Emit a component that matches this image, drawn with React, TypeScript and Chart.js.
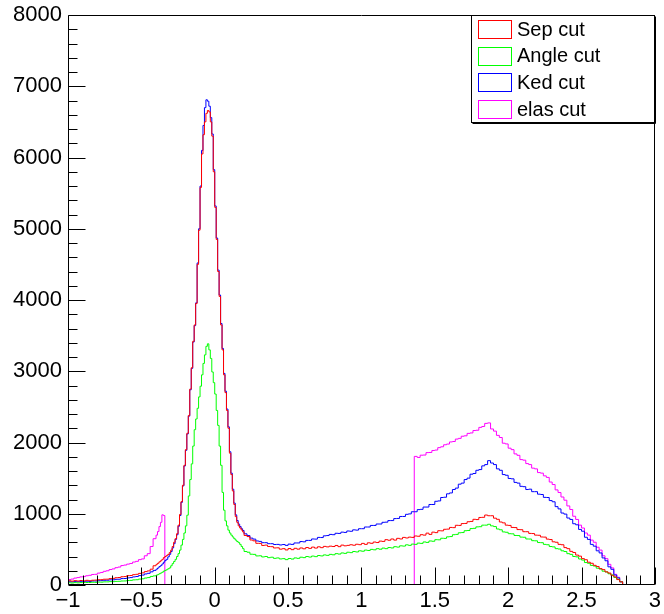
import React, { useEffect, useRef } from "react";
import { Chart, registerables } from "chart.js";

Chart.register(...registerables);

const X_MIN = -1;
const X_MAX = 3;
const Y_MIN = 0;
const Y_MAX = 8000;

// Histogram binning: coarse 0.02 bins, fine 0.01 bins around the peak
const BIN_SEGMENTS = [
  { from: -1, to: -0.4, width: 0.02 },
  { from: -0.4, to: 0.2, width: 0.01 },
  { from: 0.2, to: 3, width: 0.02 },
];
const ELAS_HIGH_START = 1.36; // uniform 0.02 bins from here to 3
const ELAS_HIGH_WIDTH = 0.02;

const SERIES_LABELS = ["Sep cut", "Angle cut", "Ked cut", "elas cut"];
const SERIES_COLORS = ["#ff0000", "#00ff00", "#0000ff", "#ff00ff"];

const SEP_CUT = [
  // -1 .. -0.4 (0.02)
  52, 60, 54, 61, 56, 63, 58, 66, 60, 67,
  69, 74, 75, 81, 82, 90, 93, 102, 105, 116,
  118, 131, 133, 145, 150, 163, 170, 188, 198, 222,
  // -0.4 .. 0.2 (0.01)
  270, 290, 305, 325, 340, 360, 385, 400, 415, 430,
  455, 490, 540, 600, 650, 720, 840, 990, 1170, 1400,
  1680, 1900, 2130, 2380, 2750, 3050, 3420, 3650, 3950, 4500,
  4980, 5580, 6050, 6320, 6500, 6620, 6660, 6640, 6500, 6300,
  5800, 5300, 4850, 4400, 4050, 3650, 3300, 2950, 2700, 2450,
  2200, 1850, 1550, 1320, 1130, 960, 880, 830, 800, 772,
  // 0.2 .. 3 (0.02)
  745, 695, 680, 632, 620, 585, 584, 555, 560, 540,
  538, 520, 522, 503, 510, 492, 512, 496, 515, 503,
  520, 508, 526, 514, 532, 518, 536, 524, 542, 535,
  545, 540, 555, 538, 560, 550, 556, 565, 558, 572,
  566, 584, 570, 592, 585, 603, 596, 616, 612, 636,
  628, 646, 630, 655, 646, 668, 660, 672, 668, 688,
  684, 706, 700, 728, 710, 742, 735, 762, 760, 782,
  784, 808, 805, 838, 836, 862, 864, 888, 892, 922,
  918, 948, 950, 982, 972, 972, 938, 922, 884, 872,
  840, 836, 808, 806, 778, 776, 748, 748, 724, 722,
  700, 698, 674, 672, 644, 638, 606, 600, 570, 565,
  525, 510, 472, 456, 420, 405, 370, 355, 320, 305,
  276, 260, 230, 216, 184, 168, 136, 114, 76, 45,
  0, 0, 0, 0, 0, 0, 0, 0, 0, 0,
];

const ANGLE_CUT = [
  // -1 .. -0.4 (0.02)
  28, 31, 28, 33, 30, 34, 34, 35, 35, 39,
  37, 41, 40, 44, 44, 47, 47, 51, 52, 56,
  57, 63, 65, 72, 74, 83, 87, 98, 104, 120,
  // -0.4 .. 0.2 (0.01)
  128, 138, 146, 158, 168, 180, 195, 205, 215, 228,
  240, 270, 300, 330, 360, 400, 440, 490, 560, 640,
  730, 830, 980, 1250, 1480, 1700, 1950, 2180, 2330, 2480,
  2640, 2790, 2950, 3110, 3230, 3350, 3385, 3300, 3180, 2990,
  2840, 2680, 2450, 2240, 1950, 1680, 1300, 1050, 900, 830,
  770, 730, 700, 675, 650, 630, 610, 595, 570, 540,
  // 0.2 .. 3 (0.02)
  510, 470, 460, 432, 430, 408, 410, 394, 400, 384,
  390, 374, 380, 366, 370, 356, 372, 364, 380, 374,
  390, 384, 400, 392, 406, 398, 414, 408, 422, 416,
  430, 424, 440, 434, 450, 444, 460, 454, 470, 464,
  480, 474, 490, 484, 500, 494, 510, 502, 518, 510,
  526, 520, 538, 532, 550, 546, 564, 556, 574, 570,
  588, 584, 604, 598, 618, 614, 636, 634, 656, 654,
  676, 680, 706, 710, 733, 736, 762, 765, 792, 795,
  816, 818, 840, 840, 852, 830, 820, 786, 775, 745,
  740, 720, 718, 695, 694, 672, 670, 646, 645, 622,
  620, 596, 594, 570, 565, 540, 535, 510, 505, 480,
  470, 440, 430, 400, 395, 365, 350, 315, 305, 275,
  266, 236, 224, 194, 184, 158, 142, 106, 82, 45,
  0, 0, 0, 0, 0, 0, 0, 0, 0, 0,
];

const KED_CUT = [
  // -1 .. -0.4 (0.02)
  42, 46, 43, 48, 45, 51, 47, 53, 50, 56,
  56, 60, 61, 66, 67, 72, 73, 80, 81, 90,
  91, 100, 104, 114, 119, 132, 139, 155, 164, 185,
  // -0.4 .. 0.2 (0.01)
  205, 222, 238, 258, 272, 295, 320, 345, 360, 395,
  430, 470, 520, 580, 640, 705, 825, 975, 1160, 1390,
  1670, 1890, 2120, 2370, 2740, 3040, 3410, 3640, 3960, 4520,
  5000, 5600, 6100, 6450, 6700, 6810, 6790, 6720, 6560, 6330,
  5830, 5320, 4870, 4420, 4070, 3670, 3320, 2970, 2720, 2470,
  2220, 1870, 1570, 1345, 1150, 985, 905, 855, 820, 790,
  // 0.2 .. 3 (0.02)
  765, 718, 694, 658, 644, 618, 612, 594, 594, 580,
  580, 568, 570, 562, 568, 556, 574, 570, 590, 590,
  610, 606, 626, 626, 646, 644, 668, 666, 690, 694,
  710, 706, 726, 724, 742, 738, 758, 754, 774, 770,
  790, 790, 814, 814, 836, 836, 856, 856, 880, 882,
  904, 904, 932, 934, 962, 962, 992, 998, 1028, 1028,
  1058, 1062, 1094, 1094, 1130, 1130, 1175, 1180, 1228, 1232,
  1280, 1292, 1340, 1360, 1415, 1430, 1480, 1500, 1555, 1565,
  1610, 1620, 1672, 1690, 1745, 1712, 1690, 1630, 1610, 1550,
  1540, 1495, 1490, 1440, 1430, 1385, 1380, 1340, 1345, 1310,
  1310, 1275, 1270, 1230, 1228, 1185, 1168, 1100, 1068, 1010,
  995, 940, 920, 860, 845, 780, 755, 670, 640, 570,
  545, 480, 450, 380, 340, 255, 220, 140, 100, 45,
  0, 0, 0, 0, 0, 0, 0, 0, 0, 0,
];

// elas cut, low part on the shared binning (-1 .. -0.32)
const ELAS_LOW = [
  66, 77, 83, 97, 104, 114, 118, 130, 136, 148,
  150, 167, 176, 192, 200, 217, 226, 243, 252, 273,
  280, 293, 302, 322, 332, 356, 366, 410, 440, 540,
  650, 700, 750, 820, 880, 985, 975, 0,
];
// elas cut, high part on 0.02 bins (1.36 .. 3)
const ELAS_HIGH = [
  0, 1805,
  1790, 1822, 1824, 1858, 1860, 1888, 1894, 1928, 1940, 1968,
  1978, 2008, 2014, 2048, 2058, 2088, 2094, 2128, 2134, 2168,
  2172, 2212, 2225, 2268, 2275, 2190, 2160, 2100, 2070, 1990,
  1980, 1920, 1900, 1840, 1820, 1760, 1752, 1704, 1690, 1640,
  1630, 1578, 1570, 1532, 1510, 1445, 1410, 1335, 1298, 1235,
  1190, 1110, 1060, 965, 920, 840, 800, 730, 700, 630,
  600, 530, 490, 410, 370, 290, 240, 150, 108, 45,
  0, 0, 0, 0, 0, 0, 0, 0, 0, 0,
];

const X_TICK_STEP = 0.5;
const Y_TICK_STEP = 1000;

const FONT = "'Liberation Sans', Arial, Helvetica, sans-serif";

function buildEdges() {
  const edges: number[] = [];
  BIN_SEGMENTS.forEach((s) => {
    const n = Math.round((s.to - s.from) / s.width);
    for (let i = 0; i < n; i++) edges.push(s.from + i * s.width);
  });
  edges.push(BIN_SEGMENTS[BIN_SEGMENTS.length - 1].to);
  return edges;
}

function histPoints(edges: number[], values: number[]) {
  const pts: { x: number; y: number | null }[] = [];
  values.forEach((v, i) => pts.push({ x: edges[i], y: v }));
  pts.push({ x: edges[values.length], y: values[values.length - 1] });
  return pts;
}

const framePlugin = {
  id: "rootFrame",
  afterDraw(chart: any) {
    const { ctx, chartArea: a, scales } = chart;
    const xs = scales.x;
    const ys = scales.y;
    ctx.save();
    ctx.strokeStyle = "#000";
    ctx.lineWidth = 1;
    const L = Math.round(a.left) + 0.5;
    const R = Math.round(a.right) - 0.5;
    const T = Math.round(a.top) + 0.5;
    const B = Math.round(a.bottom) - 0.5;
    ctx.beginPath();
    ctx.rect(L, T, R - L, B - T);
    ctx.stroke();
    ctx.beginPath();
    for (let k = 0; k <= 40; k++) {
      const v = X_MIN + k * 0.1;
      const px = Math.round(xs.getPixelForValue(v)) + 0.5;
      const len = k % 5 === 0 ? 17 : 9;
      ctx.moveTo(px, B);
      ctx.lineTo(px, B - len);
    }
    for (let k = 0; k <= 40; k++) {
      const v = Y_MIN + k * 200;
      const py = Math.round(ys.getPixelForValue(v)) + 0.5;
      const len = k % 5 === 0 ? 17 : 9;
      ctx.moveTo(L, py);
      ctx.lineTo(L + len, py);
    }
    ctx.stroke();

    // legend box
    const lx = 471.5;
    const ly = T;
    const lw = R - lx;
    const lh = 107;
    ctx.fillStyle = "#fff";
    ctx.fillRect(lx, ly, lw, lh);
    ctx.strokeStyle = "#000";
    ctx.strokeRect(lx, ly, lw, lh);
    ctx.beginPath();
    ctx.moveTo(lx + 1, ly + lh + 1);
    ctx.lineTo(lx + lw + 1, ly + lh + 1);
    ctx.lineTo(lx + lw + 1, ly + 1);
    ctx.stroke();
    ctx.font = `20px ${FONT}`;
    ctx.textBaseline = "middle";
    ctx.textAlign = "left";
    SERIES_LABELS.forEach((lab, i) => {
      const cy = ly + 13.5 + i * 26.7;
      ctx.strokeStyle = SERIES_COLORS[i];
      ctx.strokeRect(478.5, Math.round(cy - 9) + 0.5, 33, 18);
      ctx.fillStyle = "#000";
      ctx.fillText(lab, 517, cy + 1);
    });
    ctx.restore();
  },
};

export default function App() {
  const ref = useRef<HTMLCanvasElement | null>(null);
  useEffect(() => {
    document.body.style.margin = "0";
    const canvas = ref.current;
    if (!canvas) return;
    const edges = buildEdges();
    const highEdges = ELAS_HIGH.map((_, i) => ELAS_HIGH_START + i * ELAS_HIGH_WIDTH);
    highEdges.push(ELAS_HIGH_START + ELAS_HIGH.length * ELAS_HIGH_WIDTH);
    const lowPts = histPoints(edges, ELAS_LOW);
    const datasets = [
      { values: histPoints(edges, SEP_CUT), i: 0 },
      { values: histPoints(edges, ANGLE_CUT), i: 1 },
      { values: histPoints(edges, KED_CUT), i: 2 },
      {
        values: [
          ...lowPts,
          { x: lowPts[lowPts.length - 1].x + 0.005, y: null },
          ...histPoints(highEdges, ELAS_HIGH),
        ],
        i: 3,
      },
    ].map((d) => ({
      label: SERIES_LABELS[d.i],
      data: d.values,
      borderColor: SERIES_COLORS[d.i],
      backgroundColor: SERIES_COLORS[d.i],
      borderWidth: 1,
      pointRadius: 0,
      stepped: "after" as const,
      fill: false,
      spanGaps: false,
      tension: 0,
    }));

    const chart = new Chart(canvas, {
      type: "line",
      data: { datasets },
      options: {
        animation: false,
        responsive: false,
        devicePixelRatio: 1,
        layout: { padding: { left: 0, top: 15, right: 9, bottom: 0 } },
        plugins: { legend: { display: false }, tooltip: { enabled: false } },
        scales: {
          x: {
            type: "linear",
            min: X_MIN,
            max: X_MAX,
            grid: { display: false, drawTicks: false },
            border: { display: false },
            ticks: {
              stepSize: X_TICK_STEP,
              autoSkip: false,
              maxRotation: 0,
              padding: 3,
              color: "#000",
              font: { size: 22, family: FONT },
              callback: (v: any) => String(Math.round(Number(v) * 10) / 10).replace("-", "\u2212"),
            },
            afterFit: (s: any) => {
              s.height = 29;
            },
          },
          y: {
            type: "linear",
            min: Y_MIN,
            max: Y_MAX,
            grid: { display: false, drawTicks: false },
            border: { display: false },
            ticks: {
              stepSize: Y_TICK_STEP,
              padding: 6,
              color: "#000",
              font: { size: 22, family: FONT, lineHeight: 0.6 },
              callback: (v: any) => String(v),
            },
            afterFit: (s: any) => {
              s.width = 68;
            },
          },
        },
      },
      plugins: [framePlugin],
    });
    return () => chart.destroy();
  }, []);
  return <canvas ref={ref} width={664} height={614} style={{ display: "block" }} />;
}
